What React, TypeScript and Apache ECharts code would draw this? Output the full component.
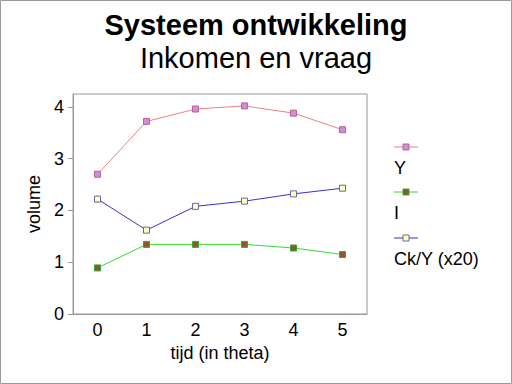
import React, { useEffect, useRef } from "react";
import * as echarts from "echarts";

const categories = ["0", "1", "2", "3", "4", "5"];
const seriesY = [2.7, 3.72, 3.96, 4.02, 3.88, 3.56];
const seriesI = [0.89, 1.345, 1.345, 1.345, 1.275, 1.15];
const seriesCk = [2.22, 1.62, 2.08, 2.18, 2.32, 2.43];
const legendNames = ["Y", "I", "Ck/Y (x20)"];
const lineColors = ["#f08080", "#33dd33", "#3333cc"];
const markerFills = ["#c890d8", "#8b5a2b", "#ffffc0"];
const markerBorders = ["#c06090", "#33aa33", "#6666aa"];

export default function App() {
  const ref = useRef<HTMLDivElement>(null);
  useEffect(() => {
    const chart = echarts.init(ref.current!, undefined, { renderer: "svg" });
    const font = "'Liberation Sans', Arial, sans-serif";
    const data = [seriesY, seriesI, seriesCk];
    const legendGraphics: any[] = [];
    const legendY = [147, 192, 238];
    legendNames.forEach((n, i) => {
      legendGraphics.push({
        type: "line",
        shape: { x1: 394, y1: legendY[i], x2: 418, y2: legendY[i] },
        style: { stroke: lineColors[i], lineWidth: 1 },
      });
      legendGraphics.push({
        type: "rect",
        shape: { x: 403, y: legendY[i] - 3, width: 6, height: 6 },
        style: { fill: markerFills[i], stroke: markerBorders[i], lineWidth: 1 },
      });
      legendGraphics.push({
        type: "text",
        x: 394,
        y: legendY[i] + 21,
        style: { text: n, font: `18px ${font}`, fill: "#000", textVerticalAlign: "middle" },
      });
    });
    chart.setOption({
      animation: false,
      backgroundColor: "#fff",
      title: [
        {
          text: "Systeem ontwikkeling",
          left: "center",
          top: 5,
          textStyle: { fontFamily: font, fontSize: 29, fontWeight: "bold", color: "#000" },
        },
        {
          text: "Inkomen en vraag",
          left: "center",
          top: 38,
          textStyle: { fontFamily: font, fontSize: 29, fontWeight: "normal", color: "#000" },
        },
      ],
      grid: { left: 73, top: 94, width: 294, height: 220, show: true, borderColor: "#999", borderWidth: 1, backgroundColor: "transparent" },
      xAxis: {
        type: "category",
        data: categories,
        boundaryGap: true,
        name: "tijd (in theta)",
        nameLocation: "middle",
        nameGap: 29,
        nameTextStyle: { fontFamily: font, fontSize: 18, color: "#000" },
        axisLine: { lineStyle: { color: "#999" } },
        axisTick: { alignWithLabel: true, length: 5, lineStyle: { color: "#999" } },
        axisLabel: { fontFamily: font, fontSize: 18, color: "#000", margin: 7 },
        splitLine: { show: false },
      },
      yAxis: {
        type: "value",
        min: 0,
        max: 4.25,
        interval: 1,
        name: "volume",
        nameLocation: "middle",
        nameGap: 27,
        nameTextStyle: { fontFamily: font, fontSize: 18, color: "#000" },
        axisLine: { show: true, lineStyle: { color: "#999" } },
        axisTick: { show: true, length: 5, lineStyle: { color: "#999" } },
        axisLabel: { fontFamily: font, fontSize: 18, color: "#000", margin: 9, showMaxLabel: false },
        splitLine: { show: false },
      },
      series: data.map((d, i) => ({
        name: legendNames[i],
        type: "line",
        data: d,
        symbol: "rect",
        symbolSize: 6,
        lineStyle: { color: lineColors[i], width: 1 },
        itemStyle: { color: markerFills[i], borderColor: markerBorders[i], borderWidth: 1 },
      })),
      graphic: [
        {
          type: "rect",
          shape: { x: 0.5, y: 0.5, width: 511, height: 383 },
          style: { fill: "none", stroke: "#999", lineWidth: 1 },
        },
        ...legendGraphics,
      ],
    });
    return () => chart.dispose();
  }, []);
  return <div ref={ref} style={{ position: "fixed", left: 0, top: 0, width: 512, height: 384 }} />;
}
